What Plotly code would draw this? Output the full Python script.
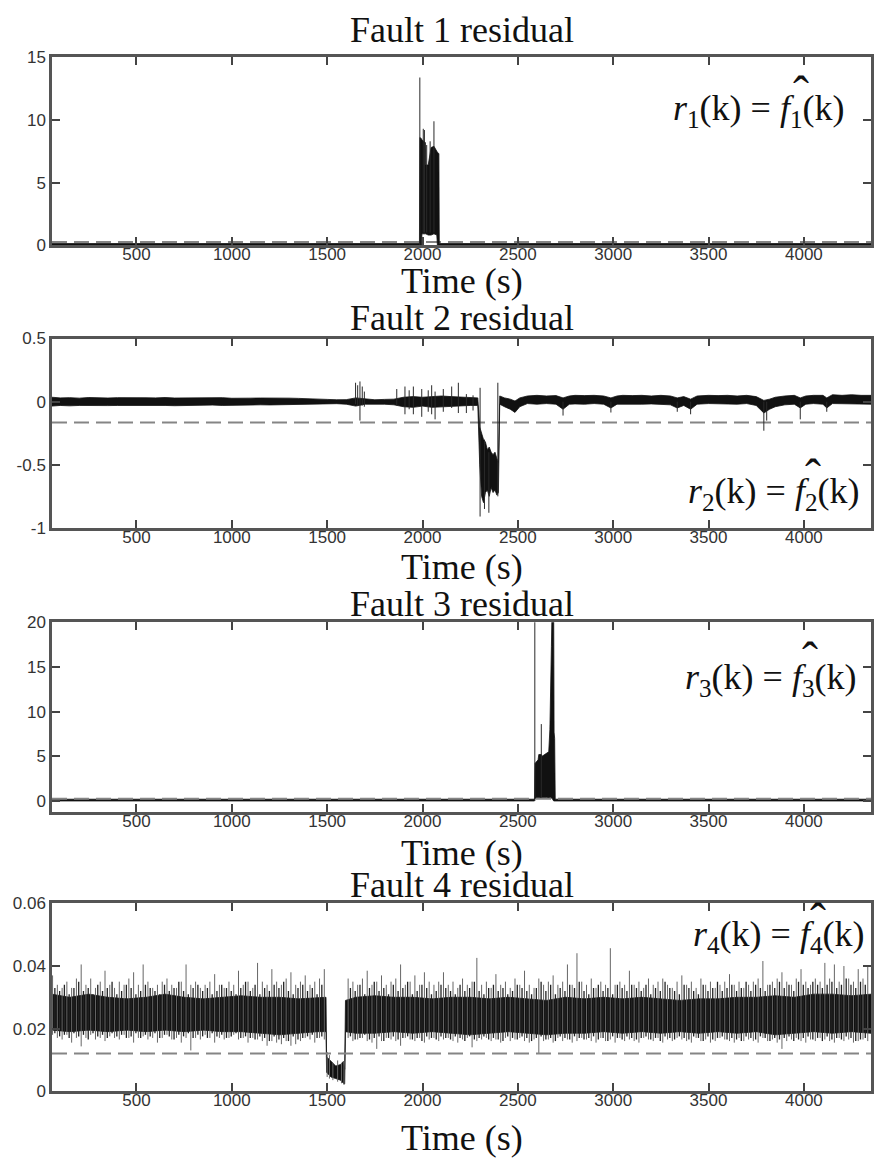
import plotly.graph_objects as go

W, H = 874, 1167
ML = 52            # left margin (px)
X_RANGE = [57, 4352]

# ---------------- Panel 1 : Fault 1 residual ----------------
p1_t  = [57, 1984, 1986, 1995, 1997, 2015, 2017, 2030, 2045, 2060, 2075, 2078, 2080, 2086, 2088, 4352]
p1_hi = [0.12, 0.12, 8.6, 8.5, 8.4, 8.2, 6.4, 6.4, 7.8, 7.9, 7.5, 7.4, 7.4, 7.3, 0.12, 0.12]
p1_lo = [0.0, 0.0, 0.0, 0.0, 0.9, 0.9, 0.9, 0.8, 0.8, 0.9, 0.8, 0.0, 0.0, 0.0, 0.0, 0.0]
p1_spike_t  = [1986, 2004, 2010, 2022, 2040, 2060]
p1_spike_hi = [13.4, 9.3, 9.2, 8.0, 8.3, 9.9]
p1_spike_lo = [0.0, 1.0, 1.0, 1.0, 1.0, 1.0]
p1_thr = 0.25

# ---------------- Panel 2 : Fault 2 residual ----------------
p2_t = [57, 100, 150, 200, 250, 300, 350, 400, 450, 500, 550, 600, 650, 700, 750,
        800, 850, 900, 950, 1000, 1050, 1100, 1150, 1200, 1250, 1300, 1350, 1400, 1450,
        1500, 1550, 1600, 1650, 1700, 1750, 1800, 1850, 1900, 1950, 2000, 2050, 2100, 2150, 2200, 2250,
        2290, 2300, 2310, 2320, 2330, 2340, 2350, 2360, 2370, 2380, 2390, 2398,
        2405, 2430, 2460, 2485, 2510, 2550, 2600, 2650, 2700, 2737, 2770, 2800, 2850, 2900,
        2950, 2988, 3020, 3050, 3100, 3150, 3200, 3250, 3300, 3336, 3370, 3406, 3440, 3500,
        3550, 3600, 3650, 3700, 3750, 3790, 3820, 3850, 3900, 3950, 3981, 4010, 4050, 4100,
        4120, 4150, 4200, 4250, 4300, 4352]
p2_hi = [0.035, 0.03, 0.032, 0.028, 0.033, 0.03, 0.029, 0.032, 0.03, 0.028, 0.031, 0.03, 0.033, 0.029, 0.03,
         0.031, 0.028, 0.03, 0.032, 0.027, 0.03, 0.028, 0.029, 0.03, 0.027, 0.028, 0.026, 0.025, 0.024,
         0.018, 0.015, 0.016, 0.03, 0.02, 0.015, 0.018, 0.02, 0.035, 0.04, 0.035, 0.04, 0.045, 0.04, 0.035, 0.03,
         0.03, -0.2, -0.25, -0.3, -0.32, -0.38, -0.36, -0.4, -0.42, -0.4, -0.45, -0.48,
         0.045, 0.03, 0.02, 0.005, 0.03, 0.045, 0.05, 0.045, 0.048, 0.03, 0.045, 0.05, 0.048, 0.05,
         0.045, 0.03, 0.045, 0.05, 0.048, 0.05, 0.045, 0.05, 0.045, 0.03, 0.04, 0.02, 0.045, 0.05,
         0.048, 0.05, 0.045, 0.05, 0.04, 0.01, 0.02, 0.035, 0.045, 0.05, 0.03, 0.045, 0.05, 0.05,
         0.03, 0.055, 0.05, 0.055, 0.05, 0.05]
p2_lo = [-0.035, -0.03, -0.033, -0.03, -0.032, -0.029, -0.031, -0.03, -0.028, -0.031, -0.03, -0.029, -0.03, -0.032, -0.028,
         -0.03, -0.029, -0.027, -0.03, -0.028, -0.026, -0.027, -0.025, -0.026, -0.024, -0.025, -0.023, -0.022, -0.022,
         -0.018, -0.016, -0.02, -0.035, -0.02, -0.018, -0.02, -0.025, -0.04, -0.045, -0.035, -0.045, -0.04, -0.035, -0.035, -0.03,
         -0.03, -0.5, -0.75, -0.8, -0.72, -0.7, -0.75, -0.68, -0.72, -0.7, -0.74, -0.72,
         -0.02, -0.04, -0.06, -0.085, -0.04, -0.015, -0.02, -0.015, -0.02, -0.06, -0.02, -0.018, -0.02, -0.015,
         -0.02, -0.05, -0.02, -0.015, -0.02, -0.02, -0.018, -0.02, -0.025, -0.05, -0.03, -0.06, -0.02, -0.015,
         -0.02, -0.018, -0.02, -0.015, -0.03, -0.09, -0.06, -0.04, -0.025, -0.02, -0.05, -0.02, -0.015, -0.02,
         -0.05, -0.015, -0.02, -0.015, -0.02, -0.02]
p2_spike_t  = [1649, 1660, 1672, 1684, 1695, 1865, 1908, 1930, 1952, 1996, 2030, 2048, 2066, 2109, 2153,
               2188, 2230, 2265, 2302, 2325, 2348, 2395, 2737, 2988, 3336, 3406, 3790, 3805, 3981, 4120]
p2_spike_hi = [0.15, 0.13, 0.16, 0.12, 0.08, 0.1, 0.12, 0.09, 0.12, 0.1, 0.09, 0.13, 0.08, 0.1, 0.12,
               0.15, 0.06, 0.05, 0.11, -0.3, -0.4, 0.15, 0.0, 0.0, 0.0, 0.0, 0.0, 0.0, 0.0, 0.0]
p2_spike_lo = [-0.02, -0.03, -0.15, -0.03, -0.04, -0.03, -0.1, -0.06, -0.1, -0.12, -0.08, -0.1, -0.14, -0.08, -0.05,
               -0.09, -0.09, -0.07, -0.91, -0.85, -0.88, -0.75, -0.11, -0.086, -0.08, -0.1, -0.23, -0.15, -0.14, -0.08]
p2_thr = -0.165

# ---------------- Panel 3 : Fault 3 residual ----------------
p3_t  = [57, 2587, 2590, 2606, 2610, 2623, 2627, 2650, 2662, 2668, 2672, 2676, 2679, 2688, 2690, 2693, 2696, 4352]
p3_hi = [0.2, 0.2, 4.2, 4.6, 5.2, 5.2, 5.0, 5.3, 5.5, 8.0, 11.4, 17.3, 21.0, 21.0, 7.7, 7.0, 0.2, 0.2]
p3_lo = [0.0, 0.0, 0.3, 0.4, 0.4, 0.3, 0.4, 0.4, 0.3, 0.4, 0.4, 0.4, 0.3, 0.0, 0.0, 0.0, 0.0, 0.0]
p3_spike_t  = [2589, 2623]
p3_spike_hi = [21.0, 8.6]
p3_spike_lo = [0.0, 0.4]
p3_thr = 0.25

# ---------------- Panel 4 : Fault 4 residual ----------------
p4_core_t = [57, 150, 250, 350, 450, 550, 650, 750, 850, 950, 1050, 1150, 1250, 1350, 1450,
             1494, 1497, 1520, 1545, 1570, 1585, 1592, 1596, 1650,
             1750, 1850, 1950, 2050, 2150, 2250, 2350, 2450, 2550, 2650, 2750, 2850, 2950,
             3050, 3150, 3250, 3350, 3450, 3550, 3650, 3750, 3850, 3950, 4050, 4150, 4250, 4352]
p4_core_hi = [0.031, 0.030, 0.031, 0.030, 0.0295, 0.030, 0.031, 0.030, 0.0295, 0.030, 0.0305, 0.030, 0.030, 0.0295, 0.030,
              0.030, 0.011, 0.0095, 0.008, 0.0085, 0.0095, 0.007, 0.029, 0.030,
              0.0305, 0.030, 0.030, 0.0295, 0.030, 0.030, 0.0295, 0.030, 0.0295, 0.029, 0.030, 0.0295, 0.030,
              0.0295, 0.030, 0.0295, 0.029, 0.0295, 0.0295, 0.030, 0.030, 0.0305, 0.030, 0.031, 0.031, 0.0305, 0.031]
p4_core_lo = [0.0195, 0.019, 0.0195, 0.019, 0.0195, 0.019, 0.0195, 0.019, 0.0195, 0.019, 0.019, 0.0185, 0.018, 0.0185, 0.019,
              0.019, 0.006, 0.0045, 0.004, 0.0035, 0.0025, 0.0023, 0.019, 0.0185,
              0.0185, 0.019, 0.0185, 0.019, 0.0185, 0.018, 0.0185, 0.019, 0.0185, 0.018, 0.0185, 0.0185, 0.019,
              0.0185, 0.019, 0.0185, 0.019, 0.0185, 0.019, 0.0185, 0.019, 0.018, 0.0185, 0.019, 0.0185, 0.019, 0.0185]

# largest noise excursions: before the dip (60..1485 every 25 s), inside the dip, after it (1610..4335)
p4_spike_t = (list(range(60, 1486, 25))
              + [1500, 1512, 1530, 1555, 1575, 1588]
              + list(range(1610, 4336, 25)))
p4_spike_hi = [
    0.037, 0.034, 0.033, 0.035, 0.033, 0.036, 0.0405, 0.034, 0.036, 0.033,
    0.035, 0.0385, 0.034, 0.033, 0.035, 0.034, 0.036, 0.038, 0.034, 0.0405,
    0.035, 0.033, 0.034, 0.035, 0.036, 0.034, 0.033, 0.035, 0.0405, 0.034,
    0.035, 0.033, 0.034, 0.035, 0.0374, 0.034, 0.033, 0.035, 0.034, 0.0385,
    0.034, 0.035, 0.033, 0.041, 0.035, 0.034, 0.039, 0.035, 0.034, 0.036,
    0.038, 0.034, 0.035, 0.037, 0.034, 0.035, 0.036, 0.039,
    0.0125, 0.0115, 0.009, 0.0098, 0.009, 0.0095,
    0.036, 0.035, 0.034, 0.036, 0.0385, 0.034, 0.035, 0.037, 0.034, 0.035,
    0.036, 0.0405, 0.034, 0.035, 0.037, 0.034, 0.038, 0.035, 0.034, 0.035,
    0.038, 0.034, 0.035, 0.033, 0.036, 0.034, 0.035, 0.0426, 0.034, 0.035,
    0.033, 0.0374, 0.034, 0.035, 0.033, 0.036, 0.034, 0.0385, 0.034, 0.033,
    0.036, 0.034, 0.035, 0.037, 0.034, 0.035, 0.0405, 0.034, 0.0441, 0.035,
    0.034, 0.036, 0.033, 0.035, 0.034, 0.0457, 0.034, 0.035, 0.034, 0.0385,
    0.034, 0.035, 0.033, 0.036, 0.034, 0.035, 0.036, 0.034, 0.033, 0.035,
    0.037, 0.034, 0.035, 0.033, 0.036, 0.034, 0.035, 0.033, 0.034, 0.035,
    0.0374, 0.034, 0.035, 0.033, 0.034, 0.035, 0.036, 0.0416, 0.034, 0.035,
    0.036, 0.038, 0.035, 0.034, 0.036, 0.039, 0.035, 0.034, 0.036, 0.035,
    0.041, 0.036, 0.0405, 0.035, 0.040, 0.036, 0.035, 0.039, 0.036, 0.040]
p4_spike_lo = [
    0.018, 0.017, 0.0165, 0.018, 0.0155, 0.017, 0.0143, 0.017, 0.018, 0.0165,
    0.017, 0.016, 0.0175, 0.017, 0.0165, 0.018, 0.017, 0.0155, 0.017, 0.0175,
    0.0165, 0.017, 0.0155, 0.017, 0.018, 0.0165, 0.017, 0.0155, 0.017, 0.013,
    0.017, 0.0165, 0.018, 0.017, 0.0155, 0.017, 0.0165, 0.017, 0.018, 0.0165,
    0.017, 0.0155, 0.017, 0.0165, 0.016, 0.0145, 0.016, 0.0155, 0.015, 0.016,
    0.0145, 0.015, 0.016, 0.017, 0.0165, 0.0155, 0.017, 0.0165,
    0.0045, 0.004, 0.0035, 0.003, 0.0025, 0.002,
    0.017, 0.016, 0.0165, 0.017, 0.016, 0.0155, 0.0135, 0.016, 0.017, 0.0165,
    0.016, 0.0145, 0.017, 0.0165, 0.016, 0.017, 0.0155, 0.0165, 0.017, 0.016,
    0.0165, 0.017, 0.016, 0.0155, 0.0165, 0.017, 0.014, 0.016, 0.0165, 0.017,
    0.016, 0.0165, 0.0155, 0.017, 0.016, 0.0165, 0.017, 0.016, 0.0155, 0.0165,
    0.012, 0.016, 0.0165, 0.0155, 0.017, 0.016, 0.0165, 0.0155, 0.016, 0.017,
    0.0165, 0.016, 0.0155, 0.017, 0.016, 0.0165, 0.0155, 0.017, 0.016, 0.0165,
    0.016, 0.0155, 0.017, 0.0165, 0.016, 0.017, 0.0155, 0.0165, 0.016, 0.017,
    0.0165, 0.016, 0.0155, 0.017, 0.016, 0.0165, 0.0155, 0.016, 0.017, 0.0165,
    0.016, 0.0155, 0.017, 0.016, 0.0165, 0.016, 0.0155, 0.017, 0.016, 0.0165,
    0.0155, 0.0135, 0.016, 0.0165, 0.017, 0.016, 0.0155, 0.0165, 0.016, 0.017,
    0.0165, 0.016, 0.0155, 0.017, 0.016, 0.0165, 0.0155, 0.016, 0.0165, 0.016]

# smaller noise excursions between the large ones
p4_noise_t = list(range(72, 1486, 25)) + list(range(1622, 4336, 25))
p4_noise_hi = [
    0.033, 0.032, 0.034, 0.031, 0.033, 0.035, 0.032, 0.033, 0.031, 0.034,
    0.032, 0.033, 0.035, 0.031, 0.032, 0.034, 0.033, 0.031, 0.032, 0.034,
    0.033, 0.032, 0.031, 0.034, 0.032, 0.033, 0.035, 0.032, 0.031, 0.033,
    0.034, 0.032, 0.033, 0.031, 0.032, 0.034, 0.033, 0.032, 0.031, 0.033,
    0.035, 0.032, 0.034, 0.031, 0.033, 0.032, 0.034, 0.033, 0.035, 0.032,
    0.031, 0.033, 0.034, 0.032, 0.033, 0.031, 0.034,
    0.033, 0.032, 0.034, 0.031, 0.033, 0.035, 0.032, 0.033, 0.031, 0.034,
    0.032, 0.033, 0.035, 0.031, 0.032, 0.034, 0.033, 0.031, 0.032, 0.034,
    0.033, 0.032, 0.031, 0.034, 0.032, 0.033, 0.035, 0.032, 0.031, 0.033,
    0.034, 0.032, 0.033, 0.031, 0.032, 0.034, 0.033, 0.032, 0.031, 0.033,
    0.035, 0.032, 0.034, 0.031, 0.033, 0.032, 0.034, 0.033, 0.035, 0.032,
    0.031, 0.033, 0.034, 0.032, 0.033, 0.031, 0.034, 0.033, 0.032, 0.034,
    0.033, 0.032, 0.034, 0.031, 0.033, 0.032, 0.035, 0.033, 0.032, 0.031,
    0.034, 0.033, 0.032, 0.031, 0.034, 0.032, 0.033, 0.035, 0.032, 0.033,
    0.034, 0.032, 0.033, 0.035, 0.032, 0.034, 0.033, 0.032, 0.034, 0.033,
    0.035, 0.033, 0.034, 0.032, 0.035, 0.034, 0.033, 0.035, 0.034, 0.033,
    0.034, 0.035, 0.033, 0.034, 0.036, 0.034, 0.033, 0.035, 0.034]
p4_noise_lo = [
    0.0185, 0.0175, 0.018, 0.017, 0.0185, 0.0175, 0.018, 0.0165, 0.0185, 0.0175,
    0.018, 0.017, 0.0185, 0.0175, 0.018, 0.017, 0.0175, 0.0185, 0.017, 0.018,
    0.0175, 0.0185, 0.017, 0.018, 0.0175, 0.0165, 0.018, 0.0175, 0.0185, 0.017,
    0.018, 0.0175, 0.017, 0.0185, 0.0175, 0.018, 0.017, 0.0175, 0.0185, 0.017,
    0.0175, 0.017, 0.0165, 0.0175, 0.017, 0.016, 0.0175, 0.0165, 0.017, 0.016,
    0.0175, 0.0165, 0.017, 0.0175, 0.018, 0.017, 0.0175,
    0.0175, 0.0165, 0.017, 0.018, 0.0165, 0.017, 0.0175, 0.016, 0.017, 0.0175,
    0.0165, 0.017, 0.0175, 0.0165, 0.017, 0.016, 0.0175, 0.017, 0.0165, 0.0175,
    0.017, 0.0165, 0.0175, 0.017, 0.016, 0.0175, 0.0165, 0.017, 0.0175, 0.0165,
    0.017, 0.0165, 0.016, 0.0175, 0.017, 0.0165, 0.0175, 0.017, 0.016, 0.017,
    0.0175, 0.0165, 0.017, 0.016, 0.0175, 0.017, 0.0165, 0.0175, 0.017, 0.0165,
    0.017, 0.0175, 0.0165, 0.017, 0.016, 0.0175, 0.017, 0.0165, 0.0175, 0.017,
    0.0165, 0.017, 0.0175, 0.0165, 0.017, 0.016, 0.0175, 0.017, 0.0165, 0.0175,
    0.017, 0.0165, 0.0175, 0.017, 0.016, 0.0175, 0.0165, 0.017, 0.0175, 0.0165,
    0.017, 0.0165, 0.016, 0.0175, 0.017, 0.0165, 0.0175, 0.017, 0.016, 0.017,
    0.0165, 0.017, 0.0175, 0.016, 0.0165, 0.017, 0.0175, 0.0165, 0.017, 0.016,
    0.0175, 0.0165, 0.017, 0.0165, 0.0175, 0.017, 0.016, 0.0165, 0.017]
p4_thr = 0.012

# ---------------- axes & labels ----------------
x_ticks = [500, 1000, 1500, 2000, 2500, 3000, 3500, 4000]
x_tick_text = ["500", "1000", "1500", "2000", "2500", "3000", "3500", "4000"]
titles = ["Fault 1 residual", "Fault 2 residual", "Fault 3 residual", "Fault 4 residual"]
x_label = "Time (s)"
y_ranges = [[0, 15], [-1, 0.5], [-1.2, 20], [0, 0.06]]
y_ticks = [[0, 5, 10, 15], [-1, -0.5, 0, 0.5], [0, 5, 10, 15, 20], [0, 0.02, 0.04, 0.06]]
y_tick_text = [["0", "5", "10", "15"], ["-1", "-0.5", "0", "0.5"],
               ["0", "5", "10", "15", "20"], ["0", "0.02", "0.04", "0.06"]]

# pixel layout (top, bottom of each plot frame)
frames_px = [(49.3, 240.0), (335.0, 527.5), (623.3, 816.0), (909.3, 1100.0)]
title_px = [21, 314, 605, 891]
xlabel_px = [277, 567, 858, 1148]
formula_px = [(761, 103), (776, 493), (773, 682), (781, 943)]
hat_px = [(804, 86), (816, 475), (813, 661), (821, 927)]

def py2paper(py):
    return 1 - py / H

def px2paper(px):
    return (px - ML) / (W - ML)

fig = go.Figure()

def ax(i, kind):
    return kind if i == 0 else f"{kind}{i + 1}"

def add_band(i, t, hi, lo):
    fig.add_trace(go.Scatter(
        x=list(t) + list(reversed(t)), y=list(hi) + list(reversed(lo)),
        fill="toself", fillcolor="#111111", mode="lines",
        line=dict(color="#111111", width=0.8),
        xaxis=ax(i, "x"), yaxis=ax(i, "y"), hoverinfo="skip"))

def add_spikes(i, t, hi, lo, color="#2a2a2a", width=1.0):
    xs, ys = [], []
    for a, top, bot in zip(t, hi, lo):
        xs += [a, a, None]
        ys += [bot, top, None]
    fig.add_trace(go.Scatter(x=xs, y=ys, mode="lines",
                             line=dict(color=color, width=width),
                             xaxis=ax(i, "x"), yaxis=ax(i, "y"), hoverinfo="skip"))

def add_thr(i, thr):
    fig.add_trace(go.Scatter(x=X_RANGE, y=[thr, thr], mode="lines",
                             line=dict(color="#858585", width=2, dash="15px,7px"),
                             xaxis=ax(i, "x"), yaxis=ax(i, "y"), hoverinfo="skip"))

# panel 1
add_thr(0, p1_thr)
add_band(0, p1_t, p1_hi, p1_lo)
add_spikes(0, p1_spike_t, p1_spike_hi, p1_spike_lo)
# panel 2
add_thr(1, p2_thr)
add_band(1, p2_t, p2_hi, p2_lo)
add_spikes(1, p2_spike_t, p2_spike_hi, p2_spike_lo)
# panel 3
add_band(2, p3_t, p3_hi, p3_lo)
add_spikes(2, p3_spike_t, p3_spike_hi, p3_spike_lo)
add_thr(2, p3_thr)
# panel 4
add_band(3, p4_core_t, p4_core_hi, p4_core_lo)
add_spikes(3, p4_noise_t, p4_noise_hi, p4_noise_lo, color="#222222", width=1.3)
add_spikes(3, p4_spike_t, p4_spike_hi, p4_spike_lo, color="#666666", width=1.0)
add_thr(3, p4_thr)

tick_font = dict(family="Liberation Sans, Arial, sans-serif", size=17, color="#333333")
serif = "Liberation Serif, Times New Roman, serif"

layout = dict(
    width=W, height=H,
    margin=dict(l=ML, r=0, t=0, b=0),
    paper_bgcolor="white", plot_bgcolor="white",
    showlegend=False,
)
annotations = []
for i in range(4):
    top, bot = frames_px[i]
    common = dict(showline=True, linewidth=2.5, linecolor="#555555", mirror="allticks",
                  ticks="inside", ticklen=8, tickwidth=1.5, tickcolor="#444444",
                  showgrid=False, zeroline=False, tickfont=tick_font)
    layout[ax(i, "xaxis")] = dict(common, domain=[0, 1], anchor=ax(i, "y"),
                                  range=X_RANGE, tickmode="array",
                                  tickvals=x_ticks, ticktext=x_tick_text,
                                  ticklabelstandoff=-8)
    layout[ax(i, "yaxis")] = dict(common, domain=[py2paper(bot), py2paper(top)],
                                  anchor=ax(i, "x"), range=y_ranges[i], tickmode="array",
                                  tickvals=y_ticks[i], ticktext=y_tick_text[i],
                                  ticklabelstandoff=0)
    annotations.append(dict(text=titles[i], xref="paper", yref="paper",
                            x=px2paper(463), y=py2paper(title_px[i]),
                            xanchor="center", yanchor="middle", showarrow=False,
                            font=dict(family=serif, size=36, color="#111111")))
    annotations.append(dict(text=x_label, xref="paper", yref="paper",
                            x=px2paper(463), y=py2paper(xlabel_px[i]),
                            xanchor="center", yanchor="middle", showarrow=False,
                            font=dict(family=serif, size=36, color="#111111")))
    fx, fy = formula_px[i]
    n = i + 1
    annotations.append(dict(text=f"<i>r</i><sub>{n}</sub>(k) = <i>f</i><sub>{n}</sub>(k)",
                            xref="paper", yref="paper",
                            x=px2paper(fx), y=py2paper(fy),
                            xanchor="center", yanchor="middle", showarrow=False,
                            font=dict(family=serif, size=36, color="#111111")))
    hx, hy = hat_px[i]
    annotations.append(dict(text="ˆ", xref="paper", yref="paper",
                            x=px2paper(hx), y=py2paper(hy),
                            xanchor="center", yanchor="middle", showarrow=False,
                            font=dict(family=serif, size=48, color="#111111")))
layout["annotations"] = annotations
fig.update_layout(**layout)

fig.write_html("out.html")
